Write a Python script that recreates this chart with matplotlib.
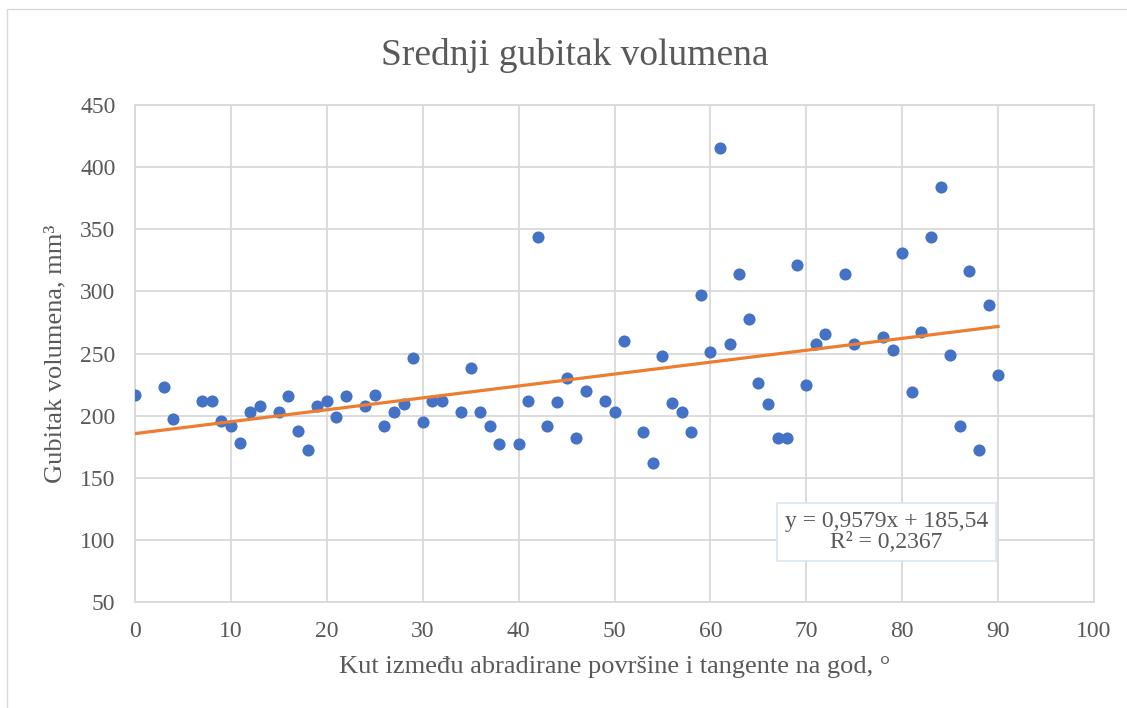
"""
Srednji gubitak volumena - scatter with linear trendline (Excel-like look)
"""
import matplotlib
matplotlib.use("Agg")
import matplotlib.pyplot as plt
from matplotlib.patches import Rectangle

# data
kut = [0, 3, 4, 7, 8, 9, 10, 11, 12, 13, 15, 16, 17, 18, 19, 20, 21, 22, 24, 25,
       26, 27, 28, 29, 30, 31, 32, 34, 35, 36, 37, 38, 40, 41, 42, 43, 44, 45, 46, 47,
       49, 50, 51, 53, 54, 55, 56, 57, 58, 59, 60, 61, 62, 63, 64, 65, 66, 67, 68, 69,
       70, 71, 72, 74, 75, 78, 79, 80, 81, 82, 83, 84, 85, 86, 87, 88, 89, 90]
gubitak = [217, 223, 197, 212, 212, 196, 192, 178, 203, 208, 203, 216, 188, 172, 208, 212, 199, 216, 208, 217,
           192, 203, 209, 246, 195, 212, 212, 203, 238, 203, 192, 177, 177, 212, 344, 192, 211, 230, 182, 220,
           212, 203, 260, 187, 162, 248, 210, 203, 187, 297, 251, 415, 258, 314, 278, 226, 209, 182, 182, 321,
           225, 258, 266, 314, 258, 263, 253, 331, 219, 267, 344, 384, 249, 192, 316, 172, 289, 233]

# trendline as given on the chart
trend_slope = 0.9579
trend_intercept = 185.54
trend_range = [0, 90]

GREY_TXT = "#595959"
BLUE = "#4472C4"
ORANGE = "#ED7D31"
GRID = "#D9D9D9"

plt.rcParams["font.family"] = ["Liberation Serif", "DejaVu Serif"]

W, H = 1127, 708
fig = plt.figure(figsize=(W / 100, H / 100), dpi=100)
ax = fig.add_axes([135 / W, 1 - 602 / H, 959 / W, 497 / H])

# chart border (right and bottom edges run off the picture)
fig.patches.append(Rectangle((7 / W, -0.05), 1.2, 1.05 - 9 / H,
                             transform=fig.transFigure, fill=False,
                             edgecolor="#D9D9D9", linewidth=1.0))

ax.scatter(kut, gubitak, s=76, color=BLUE, zorder=3, linewidths=0)
tx = trend_range
ty = [trend_slope * v + trend_intercept for v in tx]
ax.plot(tx, ty, color=ORANGE, linewidth=2.3, zorder=4)

ax.set_xlim(0, 100)
ax.set_ylim(50, 450)
ax.set_xticks(range(0, 101, 10))
ax.set_yticks(range(50, 451, 50))
ax.grid(True, color=GRID, linewidth=1.3)
ax.set_axisbelow(True)
for side in ["top", "right", "left", "bottom"]:
    ax.spines[side].set_color(GRID)
    ax.spines[side].set_linewidth(1.3)
ax.tick_params(length=0, labelsize=17, colors=GREY_TXT, pad=14)

fig.text(574.5 / W, 1 - 65 / H, "Srednji gubitak volumena", fontsize=27,
         color=GREY_TXT, ha="center", va="baseline")
ax.set_xlabel("Kut između abradirane površine i tangente na god, °", fontsize=19,
              color=GREY_TXT, labelpad=10)
ax.set_ylabel("Gubitak volumena, mm³", fontsize=19, color=GREY_TXT, labelpad=10)

eq = "y = 0,9579x + 185,54\nR² = 0,2367"
ax.text(78.35, 106.6, eq, fontsize=17, color=GREY_TXT, ha="center", va="center",
        linespacing=1.0, zorder=5,
        bbox=dict(boxstyle="square,pad=0.34", facecolor="white", edgecolor="#DAE3F3",
                  linewidth=1.2))

fig.savefig("out.png", dpi=100)
